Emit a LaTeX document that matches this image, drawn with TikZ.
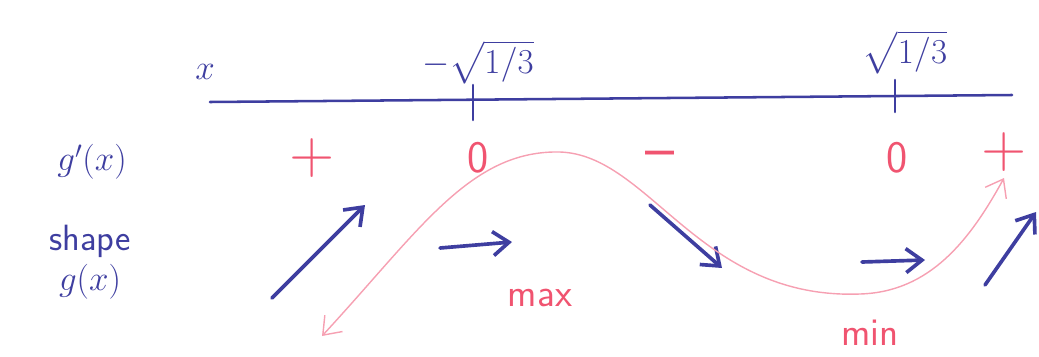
\documentclass[tikz,border=0pt]{standalone}
\usepackage{amsmath}
\usepackage{tikz}
\usetikzlibrary{arrows.meta,positioning}
\definecolor{penblue}{RGB}{62,62,160}
\definecolor{penpink}{RGB}{240,84,112}
\definecolor{softpink}{RGB}{246,160,178}

\begin{document}
\begin{tikzpicture}[x=0.025cm,y=-0.025cm,
lbl/.style={text=penblue,font=\sffamily\fontsize{26}{28}\selectfont,inner sep=1pt},
sgn/.style={text=penpink,font=\sffamily\fontsize{32}{34}\selectfont,inner sep=1pt},
bigsgn/.style={sgn,font=\sffamily\fontsize{44}{46}\selectfont},
trend/.style={penblue,line width=2.6pt,line cap=round,-{Straight Barb[length=4mm,width=6mm]}},
axis/.style={penblue,line width=1.8pt,line cap=round},
curve/.style={softpink,line width=1pt,{Straight Barb[length=4mm,width=6mm]}-{Straight Barb[length=4mm,width=6mm]}}]
\useasboundingbox (0,0) rectangle (1039,356);
% number line
\coordinate (xl) at (210,102);
\coordinate (xr) at (1012,95);
\draw[axis] (xl)--(xr);
\draw[axis] (473,85)--(473,120);
\draw[axis] (895,80)--(895,112);
\node[lbl] (xvar) at (205,72) {$x$};
\node[lbl] (cpa) at (478,62) {$-\sqrt{1/3}$};
\node[lbl] (cpb) at (905,52) {$\sqrt{1/3}$};
% row labels
\node[lbl] (dlab) at (92,162) {$g'(x)$};
\node[lbl,align=center] (slab) at (90,262) {shape\\$g(x)$};
% signs of g'
\node[bigsgn] (s1) at (312,158) {+};
\node[sgn] (s2) at (478,158) {0};
\node[bigsgn] (s3) at (660,160) {–};
\node[sgn] (s4) at (897,158) {0};
\node[bigsgn] (s5) at (1004,152) {+};
% trend arrows
\coordinate (a1) at (272,298); \coordinate (b1) at (365,205);
\coordinate (a2) at (440,248); \coordinate (b2) at (512,242);
\coordinate (a3) at (650,205); \coordinate (b3) at (722,268);
\coordinate (a4) at (862,262); \coordinate (b4) at (925,260);
\coordinate (a5) at (985,285); \coordinate (b5) at (1036,212);
\draw[trend] (a1)--(b1);
\draw[trend] (a2)--(b2);
\draw[trend] (a3)--(b3);
\draw[trend] (a4)--(b4);
\draw[trend] (a5)--(b5);
% sketch of g
\coordinate (c0) at (322,336);
\coordinate (c1) at (560,152);
\coordinate (c2) at (860,294);
\coordinate (c3) at (1004,178);
\draw[curve] (c0) .. controls (420,230) and (470,150) .. (c1)
  .. controls (650,155) and (700,300) .. (c2)
  .. controls (930,292) and (970,240) .. (c3);
\node[sgn,font=\sffamily\fontsize{28}{30}\selectfont] (mx) at (540,298) {max};
\node[sgn,font=\sffamily\fontsize{28}{30}\selectfont] (mn) at (870,333) {min};
\end{tikzpicture}
\end{document}
